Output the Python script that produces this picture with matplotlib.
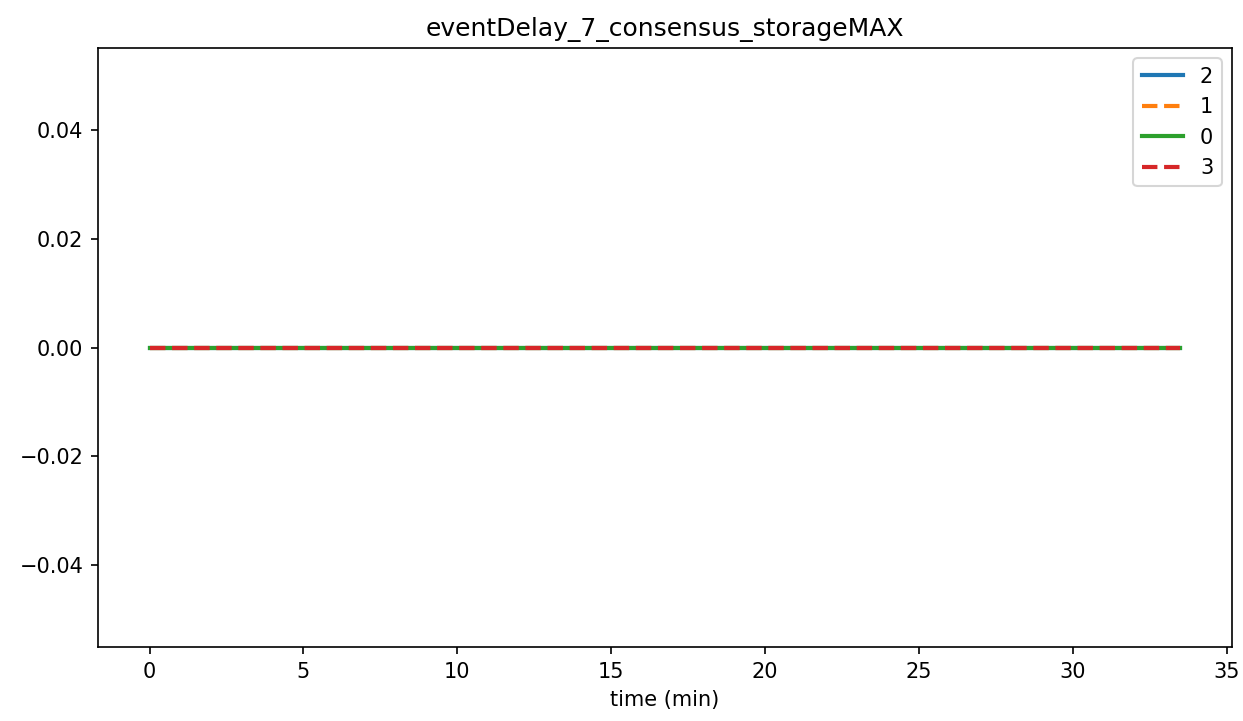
import matplotlib
matplotlib.use("Agg")
import matplotlib.pyplot as plt

# time axis (minutes) and storage max per node, all flat at zero
time_min = [0, 2.5, 5, 7.5, 10, 12.5, 15, 17.5, 20, 22.5, 25, 27.5, 30, 33.5]
node_2 = [0, 0, 0, 0, 0, 0, 0, 0, 0, 0, 0, 0, 0, 0]
node_1 = [0, 0, 0, 0, 0, 0, 0, 0, 0, 0, 0, 0, 0, 0]
node_0 = [0, 0, 0, 0, 0, 0, 0, 0, 0, 0, 0, 0, 0, 0]
node_3 = [0, 0, 0, 0, 0, 0, 0, 0, 0, 0, 0, 0, 0, 0]

series = [("2", node_2, "-"), ("1", node_1, "--"), ("0", node_0, "-"), ("3", node_3, "--")]

fig, ax = plt.subplots(figsize=(1243 / 150, 721 / 150), dpi=150)
for label, vals, ls in series:
    ax.plot(time_min, vals, linestyle=ls, linewidth=2, label=label)

ax.set_title("eventDelay_7_consensus_storageMAX")
ax.set_xlabel("time (min)")
ax.legend(loc="upper right")
fig.subplots_adjust(left=98 / 1243, right=1232 / 1243, top=1 - 48 / 721, bottom=1 - 647 / 721)
fig.savefig("out.png", dpi=150)
